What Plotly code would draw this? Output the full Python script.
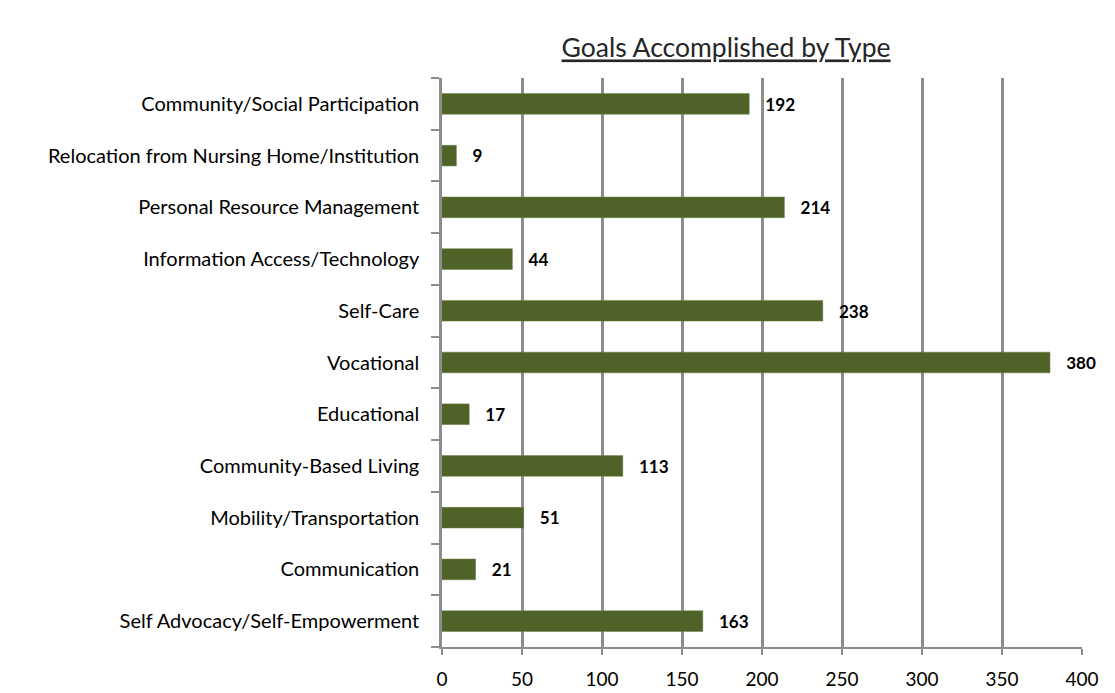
import plotly.graph_objects as go

categories = [
    "Self Advocacy/Self-Empowerment",
    "Communication",
    "Mobility/Transportation",
    "Community-Based Living",
    "Educational",
    "Vocational",
    "Self-Care",
    "Information Access/Technology",
    "Personal Resource Management",
    "Relocation from Nursing Home/Institution",
    "Community/Social Participation",
]
values = [163, 21, 51, 113, 17, 380, 238, 44, 214, 9, 192]
x_ticks = [0, 50, 100, 150, 200, 250, 300, 350, 400]

FONT = "Lato"
GRID = "#8c8c8c"

fig = go.Figure(
    go.Bar(
        y=categories,
        x=values,
        orientation="h",
        width=0.4,
        marker=dict(color="#4f6228", line=dict(color="#6b7f45", width=0.5)),
        text=[f"<b>{v}</b>" for v in values],
        textposition="outside",
        texttemplate="   %{text}",
        textfont=dict(family=FONT, size=19, color="#000000"),
        cliponaxis=False,
    )
)

fig.update_layout(
    width=1115,
    height=693,
    paper_bgcolor="white",
    plot_bgcolor="white",
    showlegend=False,
    margin=dict(l=434, r=41, t=70, b=54, autoexpand=False),
    title=dict(
        text="<u>Goals Accomplished by Type</u>",
        x=0.644,
        xanchor="center",
        y=0.942,
        yanchor="middle",
        font=dict(family=FONT, size=26.5, color="#262626"),
    ),
    font=dict(family=FONT, size=20, color="#000000"),
)

fig.update_xaxes(
    range=[0, 400],
    tickmode="array",
    tickvals=x_ticks,
    automargin=False,
    showgrid=True,
    gridcolor=GRID,
    gridwidth=2.5,
    zeroline=False,
    showline=True,
    linecolor=GRID,
    linewidth=2,
    ticks="outside",
    ticklen=6,
    tickwidth=2,
    tickcolor=GRID,
    ticklabelstandoff=8,
    tickfont=dict(family=FONT, size=19, color="#000000"),
)

fig.update_yaxes(
    categoryorder="array",
    categoryarray=categories,
    automargin=False,
    showgrid=False,
    showline=True,
    linecolor=GRID,
    linewidth=2.5,
    ticks="outside",
    tickson="boundaries",
    ticklen=8,
    tickwidth=2,
    tickcolor=GRID,
    ticklabelstandoff=16,
    tickfont=dict(family=FONT, size=20, color="#000000"),
)

fig.write_html("out.html")
